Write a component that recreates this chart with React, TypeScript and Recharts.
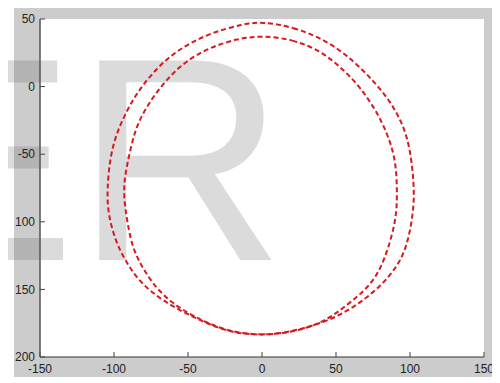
import React from 'react';
import { LineChart, Line, XAxis, YAxis } from 'recharts';

const xTicks = [-150, -100, -50, 0, 50, 100, 150];
const yTicks = [-50, 0, 50, 100, 150, 200];
const yTickLabels = ['50', '0', '-50', '100', '150', '200'];

const outerX = [0, 20.9, 43.9, 61.5, 75, 86.5, 95.3, 100, 102.7, 102.7, 98, 91.2, 79.7, 66.2, 50.7, 32.4, 12.2, -4.7, -23, -40.5, -58.8, -72.3, -83.8, -92.6, -99.3, -104.1, -104.7, -102.7, -98, -91.2, -83.8, -74.3, -63.5, -50, -33.8, -13];
const outerY = [-48, -44.3, -34, -19.5, -4.5, 10.5, 28, 45.4, 70.6, 91.3, 118.6, 133.4, 148.2, 160, 170.4, 177.8, 183, 183.7, 181.5, 173.5, 163.8, 154.1, 143, 128.3, 113.5, 93.5, 76.5, 52, 33.6, 17.5, 3.5, -9.5, -21.5, -31.5, -40, -46.3];

const innerX = [0, 20.9, 39.2, 52.7, 66.2, 77.7, 85.1, 89.9, 91.2, 91.2, 89.9, 85.1, 77.7, 66.2, 54.7, 44.6, 31.1, 12.2, -4.7, -23, -38.5, -50, -60.8, -72.3, -81.1, -87.8, -91.2, -93.2, -93.2, -91.2, -87.8, -83.8, -74.3, -63.5, -52, -36.5, -16.2];
const innerY = [-37.6, -35, -26.5, -15, 0, 18.8, 35.8, 52.8, 70.6, 87.6, 100.9, 120.9, 140.8, 154.1, 163.8, 171.9, 178.6, 183, 183.7, 180.8, 174.1, 167.5, 160, 148.2, 133.4, 118.6, 98.7, 83.9, 70.6, 58, 41, 26.2, 8.4, -6.4, -18.2, -28.6, -35.6];

const outerData = outerX.map((x, i) => ({ x, y: outerY[i] }));
const innerData = innerX.map((x, i) => ({ x, y: innerY[i] }));

const FONT = '"Liberation Sans", Arial, sans-serif';
const tickStyle = { fontSize: 12, fill: '#222', fontFamily: FONT };
const RED = '#d7191f';

export default function App() {
  return (
    <div style={{ position: 'relative', width: 500, height: 383, margin: '-8px 0 0 -8px', background: '#fff', overflow: 'hidden' }}>
      <div style={{ position: 'absolute', left: 14, top: 5, width: 486, height: 372, background: '#cccccc' }} />
      <div style={{ position: 'absolute', left: 40, top: 19, width: 444, height: 338, background: '#ffffff' }} />
      <svg width={500} height={383} style={{ position: 'absolute', left: 0, top: 0 }}>
        <text x={-118} y={260} fontSize={290} fontFamily={FONT} fill="rgba(90,90,90,0.22)">ER</text>
      </svg>
      <div style={{ position: 'absolute', left: 0, top: 0 }}>
        <LineChart width={500} height={383} margin={{ top: 19, right: 16, bottom: 0, left: 0 }}>
          <XAxis xAxisId="b" dataKey="x" type="number" domain={[-150, 150]} ticks={xTicks} interval={0}
            allowDataOverflow height={26} tickSize={-5} tickMargin={12} tick={tickStyle}
            axisLine={{ stroke: '#333', strokeWidth: 1 }} tickLine={{ stroke: '#444' }} />
          <XAxis xAxisId="t" orientation="top" dataKey="x" type="number" domain={[-150, 150]} ticks={xTicks} interval={0}
            allowDataOverflow height={0} tickSize={-5} tick={false}
            axisLine={{ stroke: '#111', strokeWidth: 1 }} tickLine={{ stroke: '#444' }} />
          <YAxis yAxisId="l" type="number" domain={[-50, 200]} reversed ticks={yTicks} interval={0}
            allowDataOverflow width={40} tickSize={-5} tickMargin={10} tick={tickStyle}
            tickFormatter={(v: number) => yTickLabels[yTicks.indexOf(v)] ?? String(v)}
            axisLine={{ stroke: '#555', strokeWidth: 1.5 }} tickLine={{ stroke: '#444' }} />
          <YAxis yAxisId="r" orientation="right" type="number" domain={[-50, 200]} reversed ticks={yTicks} interval={0}
            allowDataOverflow width={0} tickSize={-5} tick={false}
            axisLine={{ stroke: '#777', strokeWidth: 1.5 }} tickLine={{ stroke: '#555' }} />
          <Line xAxisId="b" yAxisId="l" data={outerData} dataKey="y" type="basisClosed" dot={false}
            stroke={RED} strokeWidth={2} strokeDasharray="5 3" isAnimationActive={false} />
          <Line xAxisId="b" yAxisId="l" data={innerData} dataKey="y" type="basisClosed" dot={false}
            stroke={RED} strokeWidth={2} strokeDasharray="5 3" isAnimationActive={false} />
        </LineChart>
      </div>
    </div>
  );
}
